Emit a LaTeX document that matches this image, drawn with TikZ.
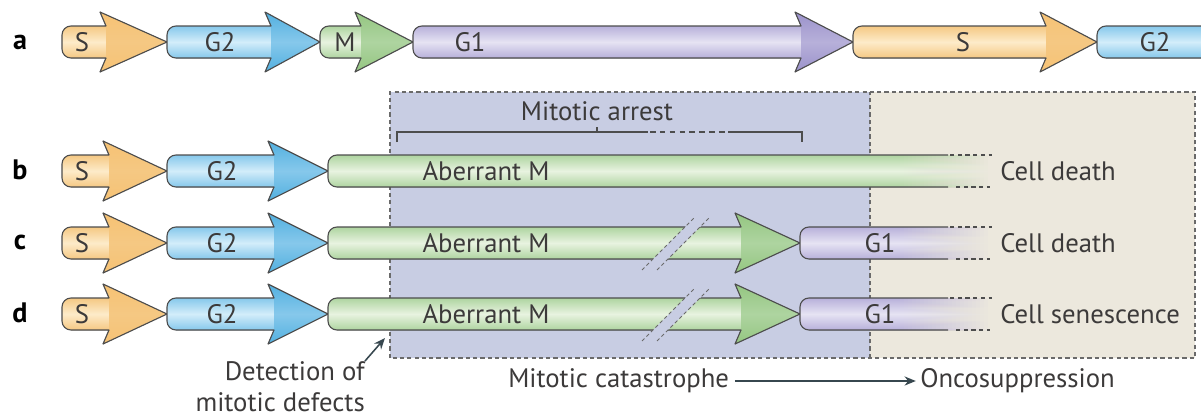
\documentclass[tikz,border=0pt]{standalone}
\usepackage{fontspec}
\setmainfont{PT Sans}
\usetikzlibrary{arrows.meta}

\definecolor{Sedge}{HTML}{F5C883}
\definecolor{Smid}{HTML}{FDEBC9}
\definecolor{Shead}{HTML}{F6C274}
\definecolor{Gtwoedge}{HTML}{86C8EB}
\definecolor{Gtwomid}{HTML}{D3EDFA}
\definecolor{Gtwohead}{HTML}{52B0E0}
\definecolor{Medge}{HTML}{AED4A0}
\definecolor{Mmid}{HTML}{E8F3E0}
\definecolor{Mhead}{HTML}{94C681}
\definecolor{Goneedge}{HTML}{B7B0DA}
\definecolor{Gonemid}{HTML}{E6E3F3}
\definecolor{Gonehead}{HTML}{9B92CB}
\definecolor{bluebg}{HTML}{C8CDE3}
\definecolor{beigebg}{HTML}{ECE8DD}
\definecolor{linegrey}{HTML}{4D4D4D}
\definecolor{dashgrey}{HTML}{6A6A6A}
\definecolor{textgrey}{HTML}{3C3A3A}
\definecolor{slate}{HTML}{37474F}

\tikzset{
  phaseline/.style={draw=linegrey, line width=0.8pt, line join=round},
  phase/.style={font=\fontsize{19}{22}\selectfont, text=textgrey, inner sep=0pt},
  fate/.style={phase, anchor=west},
  rowlabel/.style={font=\fontsize{20}{24}\selectfont\bfseries, inner sep=0pt},
  regionline/.style={draw=dashgrey, line width=0.8pt, dash pattern=on 3pt off 2.2pt},
  cutline/.style={draw=dashgrey, line width=0.7pt, dash pattern=on 2.5pt off 2pt},
  bracketline/.style={draw=linegrey, line width=0.8pt},
  slatearrow/.style={draw=slate, line width=1.1pt, -{Stealth[length=8pt, width=6.5pt]}},
}

% left end, head base, tip, row, colour prefix
\newcommand{\phasearrow}[5]{%
  \fill[top color=#5edge, bottom color=#5edge, middle color=#5mid]
    (#1+9,#4+16) -- (#2+6,#4+16) -- (#2+6,#4-16) -- (#1+9,#4-16)
    arc[start angle=270, end angle=180, radius=9] -- (#1,#4+7)
    arc[start angle=180, end angle=90, radius=9] -- cycle;
  \fill[top color=#5head, bottom color=#5head, middle color=#5edge]
    (#2+6,#4+16) -- (#2,#4+30) -- (#3,#4) -- (#2,#4-30) -- (#2+6,#4-16) -- cycle;
  \draw[phaseline] (#1+9,#4+16) -- (#2+6,#4+16) -- (#2,#4+30) -- (#3,#4)
    -- (#2,#4-30) -- (#2+6,#4-16) -- (#1+9,#4-16)
    arc[start angle=270, end angle=180, radius=9] -- (#1,#4+7)
    arc[start angle=180, end angle=90, radius=9] -- cycle;
}

% left end, row, colour prefix
\newcommand{\fadingbar}[3]{%
  \fill[top color=#3edge, bottom color=#3edge, middle color=#3mid]
    (#1+9,#2+16) -- (992,#2+16) -- (992,#2-16) -- (#1+9,#2-16)
    arc[start angle=270, end angle=180, radius=9] -- (#1,#2+7)
    arc[start angle=180, end angle=90, radius=9] -- cycle;
  \foreach \k [evaluate=\k as \op using 1/(24-\k)] in {1,...,23}
    \fill[beigebg, opacity=\op] ({896+4*\k},#2-17) rectangle (994,#2+17);
  \draw[phaseline] (948,#2+16) -- (#1+9,#2+16)
    arc[start angle=90, end angle=180, radius=9] -- (#1,#2-7)
    arc[start angle=180, end angle=270, radius=9] -- (948,#2-16);
  \draw[phaseline, dash pattern=on 3pt off 2.5pt] (950,#2+16) -- (992,#2+16) (956,#2-16) -- (990,#2-16);
}

% break in the arrow
\newcommand{\breakmark}[2]{%
  \fill[bluebg] (#1-18,#2-18) -- (#1+18,#2+18) -- (#1+33,#2+18) -- (#1-3,#2-18) -- cycle;
  \draw[cutline] (#1-27,#2-27) -- (#1+25,#2+25);
  \draw[cutline] (#1-12,#2-27) -- (#1+40,#2+25);
}

\begin{document}
\begin{tikzpicture}[x=0.025cm,y=0.025cm]
\clip (0,0) rectangle (1201,417);
\fill[white] (0,0) rectangle (1201,417);

% regions
\fill[bluebg] (390,59) rectangle (870,325);
\fill[beigebg] (870,59) rectangle (1195,325);
\draw[regionline] (390,59) rectangle (1195,325);
\draw[regionline] (870,59) -- (870,325);

% row a
\phasearrow{62}{100}{167}{375}{S}
\phasearrow{167}{265}{320}{375}{Gtwo}
\phasearrow{320}{355}{413}{375}{M}
\phasearrow{413}{795}{853}{375}{Gone}
\phasearrow{853}{1040}{1097}{375}{S}
\phasearrow{1097}{1300}{1360}{375}{Gtwo}
\node[rowlabel] (la) at (20,375) {a};
\node[phase] (aS) at (82,375) {S};
\node[phase] (aGtwo) at (220,375) {G2};
\node[phase] (aM) at (345,375) {M};
\node[phase] (aGone) at (470,375) {G1};
\node[phase] (aSnext) at (963,375) {S};
\node[phase] (aGtwonext) at (1155,375) {G2};

% mitotic arrest
\node[phase] (arrest) at (597,306) {Mitotic arrest};
\draw[bracketline] (397,275) -- (397,285) -- (648,285);
\draw[bracketline, dash pattern=on 4pt off 3pt] (650,285) -- (728,285);
\draw[bracketline] (728,285) -- (802,285) -- (802,275);
\draw[bracketline] (597,285) -- (597,290);

% row b
\phasearrow{62}{103}{167}{246}{S}
\phasearrow{167}{268}{328}{246}{Gtwo}
\fadingbar{328}{246}{M}
\node[rowlabel] (lb) at (20,247) {b};
\node[phase] (bS) at (82,246) {S};
\node[phase] (bGtwo) at (222,246) {G2};
\node[phase] (bM) at (486,246) {Aberrant M};
\node[fate] (bfate) at (1000,246) {Cell death};

% row c
\phasearrow{62}{103}{167}{174}{S}
\phasearrow{167}{268}{328}{174}{Gtwo}
\phasearrow{328}{735}{800}{174}{M}
\breakmark{669}{174}
\fadingbar{800}{174}{Gone}
\node[rowlabel] (lc) at (20,175) {c};
\node[phase] (cS) at (82,174) {S};
\node[phase] (cGtwo) at (222,174) {G2};
\node[phase] (cM) at (486,174) {Aberrant M};
\node[phase] (cGone) at (880,174) {G1};
\node[fate] (cfate) at (1000,174) {Cell death};

% row d
\phasearrow{62}{103}{167}{103}{S}
\phasearrow{167}{268}{328}{103}{Gtwo}
\phasearrow{328}{735}{800}{103}{M}
\breakmark{669}{103}
\fadingbar{800}{103}{Gone}
\node[rowlabel] (ld) at (20,104) {d};
\node[phase] (dS) at (82,103) {S};
\node[phase] (dGtwo) at (222,103) {G2};
\node[phase] (dM) at (486,103) {Aberrant M};
\node[phase] (dGone) at (880,103) {G1};
\node[fate] (dfate) at (1000,103) {Cell senescence};

% bottom
\node[phase, align=right, anchor=north east] (detect) at (365,56) {Detection of\\mitotic defects};
\coordinate (defect) at (385,79);
\draw[slatearrow] (detect.north east) -- (defect);
\node[fate] (catastrophe) at (508,36) {Mitotic catastrophe};
\node[fate] (onco) at (920,36) {Oncosuppression};
\draw[slatearrow, shorten <=4pt, shorten >=3pt] (catastrophe) -- (onco);
\end{tikzpicture}
\end{document}
